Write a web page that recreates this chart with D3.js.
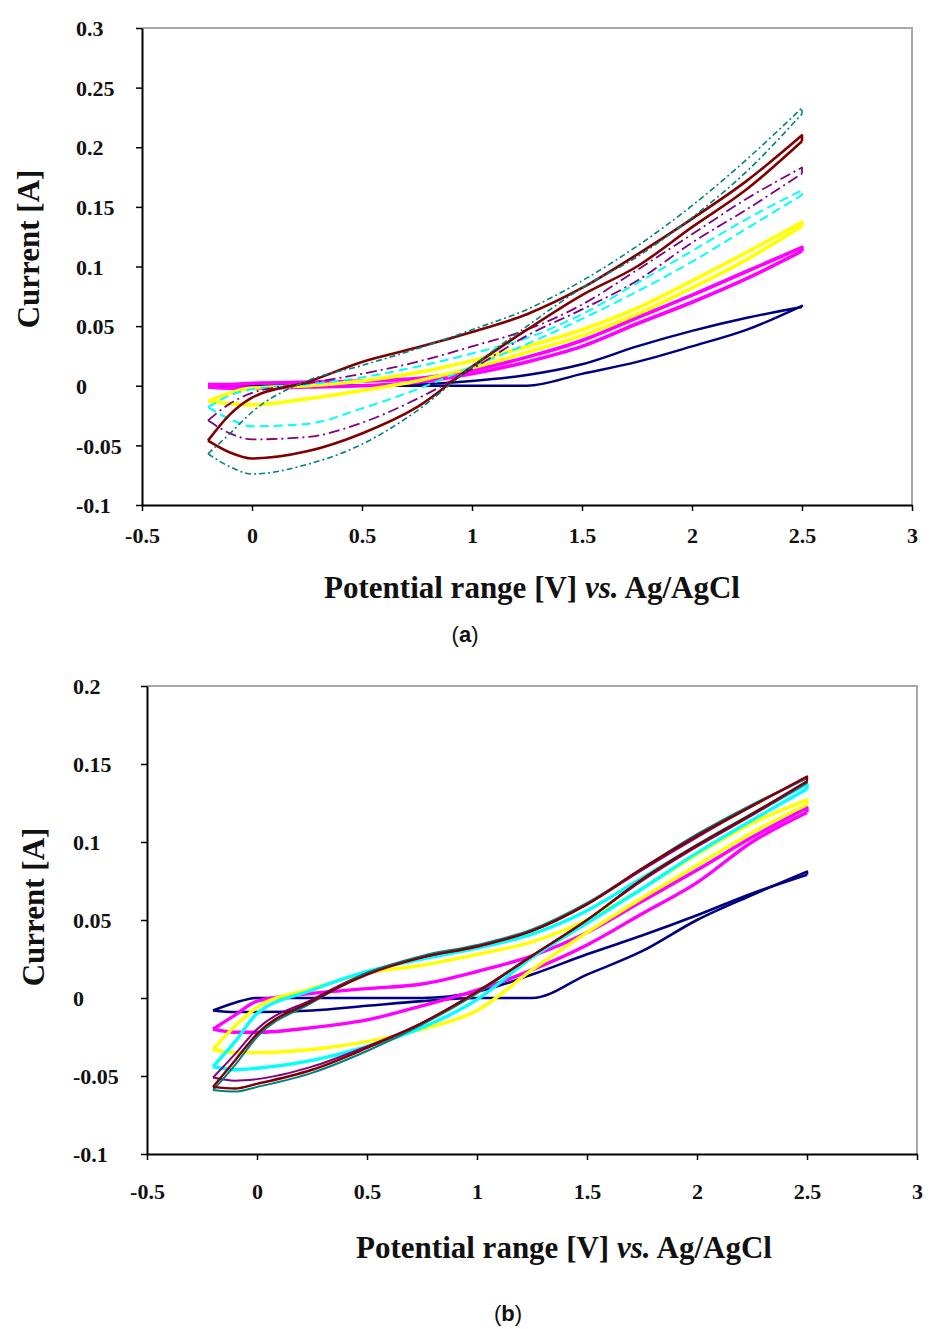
<!DOCTYPE html>
<html>
<head>
<meta charset="utf-8">
<script src="https://cdn.jsdelivr.net/npm/d3@7"></script>
<style>
  body { margin: 0; background: #fff; }
  svg { display: block; background: #fff; }
  .serif { font-family: 'Liberation Serif', 'Times New Roman', serif; font-weight: bold; fill: #111; }
  .caption { font-family: 'Liberation Sans Narrow', 'Liberation Sans', Arial, sans-serif; fill: #111; }
</style>
</head>
<body>
<svg id="chart" width="932" height="1329"></svg>
<script>
// Potentials (V) at which the currents were read, forward sweep -0.2 -> 2.5 V
const potentials = [-0.2, -0.1, 0, 0.25, 0.5, 0.75, 1, 1.25, 1.5, 1.75, 2, 2.25, 2.5]
const xTicks = [-0.5, 0, 0.5, 1, 1.5, 2, 2.5, 3]
const yTicksA = [-0.1, -0.05, 0, 0.05, 0.1, 0.15, 0.2, 0.25, 0.3]
const yTicksB = [-0.1, -0.05, 0, 0.05, 0.1, 0.15, 0.2]

// Panel (a): current (A), forward and reverse branch, on the potentials above
const aNavyFwd    = [0, 0, 0, 0, 0, 0, 0, 0, 0.01, 0.02, 0.033, 0.047, 0.067]
const aNavyRev    = [0, 0, 0, 0, 0, 0.001, 0.004, 0.009, 0.018, 0.033, 0.046, 0.057, 0.066]
const aMagentaFwd = [0.001, 0.001, 0.002, 0.003, 0.004, 0.006, 0.013, 0.024, 0.038, 0.057, 0.076, 0.096, 0.116]
const aMagentaRev = [-0.001, -0.002, -0.002, -0.001, 0, 0.003, 0.01, 0.02, 0.033, 0.052, 0.07, 0.09, 0.113]
const aYellowFwd  = [-0.013, -0.006, -0.002, 0, 0.004, 0.011, 0.021, 0.033, 0.047, 0.065, 0.088, 0.112, 0.137]
const aYellowRev  = [-0.013, -0.015, -0.016, -0.011, -0.004, 0.004, 0.015, 0.028, 0.042, 0.06, 0.082, 0.106, 0.134]
const aCyanFwd    = [-0.018, -0.008, -0.003, 0.001, 0.007, 0.016, 0.027, 0.04, 0.06, 0.086, 0.113, 0.14, 0.164]
const aCyanRev    = [-0.018, -0.028, -0.034, -0.032, -0.019, -0.003, 0.016, 0.035, 0.056, 0.079, 0.104, 0.132, 0.16]
const aPurpleFwd  = [-0.029, -0.015, -0.006, 0.002, 0.01, 0.02, 0.033, 0.047, 0.068, 0.097, 0.127, 0.157, 0.183]
const aPurpleRev  = [-0.029, -0.04, -0.045, -0.043, -0.031, -0.011, 0.014, 0.042, 0.064, 0.088, 0.12, 0.148, 0.178]
const aMaroonFwd  = [-0.046, -0.024, -0.01, 0.003, 0.02, 0.032, 0.045, 0.06, 0.082, 0.11, 0.14, 0.172, 0.21]
const aMaroonRev  = [-0.046, -0.056, -0.061, -0.055, -0.04, -0.018, 0.016, 0.047, 0.076, 0.1, 0.133, 0.165, 0.205]
const aTealFwd    = [-0.057, -0.04, -0.022, 0.004, 0.017, 0.031, 0.047, 0.064, 0.088, 0.117, 0.151, 0.19, 0.233]
const aTealRev    = [-0.057, -0.068, -0.074, -0.066, -0.049, -0.021, 0.016, 0.05, 0.082, 0.108, 0.141, 0.18, 0.228]

// Panel (b)
const bNavyFwd    = [-0.008, -0.009, -0.009, -0.008, -0.005, -0.002, 0, 0, 0.015, 0.03, 0.05, 0.066, 0.081]
const bNavyRev    = [-0.008, -0.003, 0, 0, 0, 0, 0.004, 0.015, 0.028, 0.04, 0.053, 0.067, 0.079]
const bMagentaFwd = [-0.02, -0.011, -0.002, 0.003, 0.006, 0.009, 0.017, 0.027, 0.042, 0.062, 0.082, 0.103, 0.122]
const bMagentaRev = [-0.02, -0.022, -0.022, -0.019, -0.014, -0.005, 0.005, 0.018, 0.034, 0.054, 0.074, 0.1, 0.119]
const bYellowFwd  = [-0.033, -0.018, -0.006, 0.006, 0.016, 0.021, 0.028, 0.036, 0.05, 0.07, 0.092, 0.112, 0.127]
const bYellowRev  = [-0.033, -0.035, -0.035, -0.033, -0.028, -0.02, -0.008, 0.018, 0.042, 0.064, 0.085, 0.106, 0.124]
const bCyanFwd    = [-0.044, -0.028, -0.01, 0.005, 0.017, 0.025, 0.032, 0.041, 0.056, 0.077, 0.098, 0.118, 0.137]
const bCyanRev    = [-0.044, -0.046, -0.045, -0.04, -0.031, -0.019, -0.001, 0.026, 0.048, 0.07, 0.093, 0.114, 0.134]
const bPurpleFwd  = [-0.051, -0.036, -0.02, -0.001, 0.016, 0.026, 0.033, 0.043, 0.06, 0.082, 0.103, 0.123, 0.141]
const bPurpleRev  = [-0.051, -0.053, -0.052, -0.044, -0.031, -0.016, 0.004, 0.027, 0.05, 0.075, 0.097, 0.117, 0.138]
const bMaroonFwd  = [-0.057, -0.04, -0.023, -0.002, 0.015, 0.026, 0.033, 0.043, 0.06, 0.083, 0.104, 0.123, 0.142]
const bMaroonRev  = [-0.057, -0.058, -0.055, -0.046, -0.032, -0.016, 0.004, 0.027, 0.05, 0.076, 0.098, 0.118, 0.139]
const bTealFwd    = [-0.059, -0.043, -0.025, -0.003, 0.016, 0.027, 0.034, 0.044, 0.061, 0.083, 0.105, 0.124, 0.141]
const bTealRev    = [-0.059, -0.06, -0.057, -0.048, -0.034, -0.017, 0.003, 0.027, 0.05, 0.076, 0.098, 0.118, 0.138]

const COLORS = {
    navy: '#000080',
    magenta: '#ff00ff',
    yellow: '#ffff00',
    cyan: '#00ffff',
    purple: '#800080',
    maroon: '#800000',
    teal: '#008080',
}

const svg = d3.select('#chart')

function drawPanel(p) {
    const x = d3.scaleLinear().domain([-0.5, 3]).range([p.left, p.right])
    const y = d3.scaleLinear().domain(p.yDomain).range([p.bottom, p.top])
    const g = svg.append('g')

    // grey frame on top and right
    g.append('path')
        .attr('d', `M${p.left},${p.top}H${p.right}V${p.bottom}`)
        .attr('fill', 'none')
        .attr('stroke', '#a8a8a8')
        .attr('stroke-width', 2)

    const line = d3.line()
        .x(d => x(d[0]))
        .y(d => y(d[1]))
        .curve(d3.curveMonotoneX)

    p.series.forEach(s => {
        const fwd = potentials.map((e, i) => [e, s.fwd[i]])
        const rev = potentials.map((e, i) => [e, s.rev[i]])
        const last = potentials.length - 1
        // forward branch, then the short turn at 2.5 V down to the reverse branch
        const dFwd = line(fwd) + `L${x(potentials[last])},${y(s.rev[last])}`
        ;[dFwd, line(rev)].forEach(d => {
            g.append('path')
                .attr('d', d)
                .attr('fill', 'none')
                .attr('stroke', s.color)
                .attr('stroke-width', s.width)
                .attr('stroke-dasharray', s.dash || null)
                .attr('stroke-linejoin', 'round')
        })
    })

    // axes
    const xAxis = d3.axisBottom(x).tickValues(xTicks).tickSize(6).tickSizeOuter(0).tickFormat(d => String(d))
    const yAxis = d3.axisLeft(y).tickValues(p.yTicks).tickSize(6).tickSizeOuter(0).tickFormat(d => String(d))

    const xg = g.append('g').attr('transform', `translate(0,${p.bottom})`).call(xAxis)
    const yg = g.append('g').attr('transform', `translate(${p.left},0)`).call(yAxis)

    ;[xg, yg].forEach(a => {
        a.attr('color', '#000').attr('font-size', null).attr('font-family', null)
        a.select('.domain').attr('stroke-width', 2)
        a.selectAll('.tick line').attr('stroke-width', 1.5)
        a.selectAll('.tick text').attr('class', 'serif').style('font-size', '22px')
    })
    xg.selectAll('.tick text').attr('y', p.xTickY - p.bottom).attr('dy', 0)
    yg.selectAll('.tick text')
        .attr('text-anchor', 'start')
        .attr('x', p.yTickX - p.left)
        .attr('dy', '0.35em')

    // axis titles
    const xt = g.append('text').attr('class', 'serif')
        .attr('x', p.xTitleX).attr('y', p.xTitleY)
        .attr('text-anchor', 'middle').style('font-size', '31px')
    xt.append('tspan').text('Potential range [V] ')
    xt.append('tspan').attr('font-style', 'italic').text('vs.')
    xt.append('tspan').text(' Ag/AgCl')

    g.append('text').attr('class', 'serif')
        .attr('transform', `translate(${p.yTitleX},${p.yTitleY}) rotate(-90)`)
        .attr('text-anchor', 'middle').style('font-size', '31px')
        .text('Current [A]')

    const cap = g.append('text').attr('class', 'caption')
        .attr('x', p.capX).attr('y', p.capY)
        .attr('text-anchor', 'middle').style('font-size', '22px')
    cap.append('tspan').text('(')
    cap.append('tspan').attr('font-weight', 'bold').text(p.caption)
    cap.append('tspan').text(')')
}

drawPanel({
    left: 142, right: 912, top: 28, bottom: 505,
    yDomain: [-0.1, 0.3], yTicks: yTicksA,
    xTickY: 543, yTickX: 76,
    xTitleX: 532, xTitleY: 598,
    yTitleX: 39, yTitleY: 249,
    capX: 465, capY: 642, caption: 'a',
    series: [
        { color: COLORS.navy, width: 2.4, fwd: aNavyFwd, rev: aNavyRev },
        { color: COLORS.magenta, width: 3.6, fwd: aMagentaFwd, rev: aMagentaRev },
        { color: COLORS.yellow, width: 3.6, fwd: aYellowFwd, rev: aYellowRev },
        { color: COLORS.cyan, width: 2, dash: '9,5', fwd: aCyanFwd, rev: aCyanRev },
        { color: COLORS.purple, width: 1.8, dash: '11,4,2,4', fwd: aPurpleFwd, rev: aPurpleRev },
        { color: COLORS.maroon, width: 2.6, fwd: aMaroonFwd, rev: aMaroonRev },
        { color: COLORS.teal, width: 1.6, dash: '6,3,2,3', fwd: aTealFwd, rev: aTealRev },
    ],
})

drawPanel({
    left: 147, right: 917, top: 686, bottom: 1154,
    yDomain: [-0.1, 0.2], yTicks: yTicksB,
    xTickY: 1199, yTickX: 73,
    xTitleX: 564, xTitleY: 1258,
    yTitleX: 44, yTitleY: 907,
    capX: 508, capY: 1321, caption: 'b',
    series: [
        { color: COLORS.navy, width: 2.6, fwd: bNavyFwd, rev: bNavyRev },
        { color: COLORS.magenta, width: 3.4, fwd: bMagentaFwd, rev: bMagentaRev },
        { color: COLORS.yellow, width: 3.4, fwd: bYellowFwd, rev: bYellowRev },
        { color: COLORS.cyan, width: 3.4, fwd: bCyanFwd, rev: bCyanRev },
        { color: COLORS.purple, width: 2, fwd: bPurpleFwd, rev: bPurpleRev },
        { color: COLORS.teal, width: 2, fwd: bTealFwd, rev: bTealRev },
        { color: COLORS.maroon, width: 2.4, fwd: bMaroonFwd, rev: bMaroonRev },
    ],
})
</script>
</body>
</html>
